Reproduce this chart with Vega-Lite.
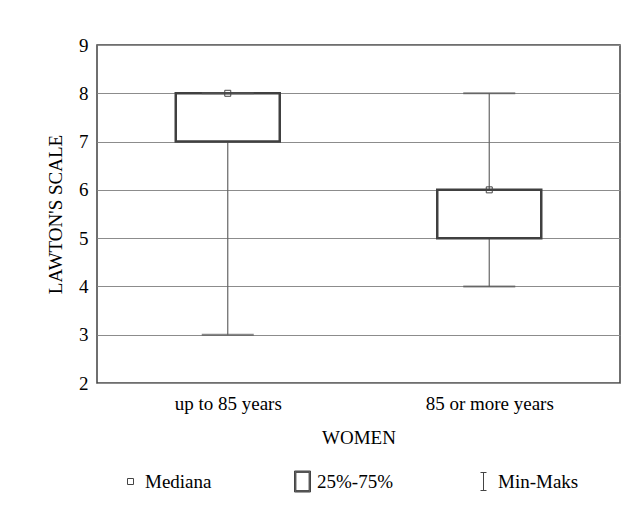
{
  "$schema": "https://vega.github.io/schema/vega-lite/v6.json",
  "width": 523,
  "height": 338,
  "autosize": {"type": "none"},
  "padding": {"left": 97, "top": 45, "right": 16, "bottom": 128},
  "background": "white",
  "config": {
    "font": "Liberation Serif",
    "view": {"stroke": "#404040", "strokeWidth": 1.5},
    "axis": {"labelFont": "Liberation Serif", "titleFont": "Liberation Serif", "labelFontSize": 19, "titleFontSize": 19, "labelColor": "black", "titleColor": "black", "titleFontWeight": "normal", "domain": false}
  },
  "data": {"values": [
    {"group": "up to 85 years", "min": 3, "q1": 7, "median": 8, "q3": 8, "max": 8, "legend": "Mediana"},
    {"group": "85 or more years", "min": 4, "q1": 5, "median": 6, "q3": 6, "max": 8, "legend": "Mediana"}
  ]},
  "encoding": {
    "x": {"field": "group", "type": "nominal", "sort": null,
      "scale": {"type": "point", "padding": 0.5},
      "axis": {"title": "WOMEN", "labelAngle": 0, "ticks": false, "labelPadding": 11, "titlePadding": 15, "grid": false}}
  },
  "layer": [
    {"mark": {"type": "rule", "color": "#666666", "strokeWidth": 1.2},
     "encoding": {
       "y": {"field": "min", "type": "quantitative", "scale": {"domain": [2, 9], "nice": false, "zero": false},
         "axis": {"title": "LAWTON'S SCALE", "values": [2,3,4,5,6,7,8,9], "ticks": false, "labelPadding": 9, "titlePadding": 13, "grid": true, "gridColor": "#8c8c8c", "gridWidth": 1, "gridOpacity": 1}},
       "y2": {"field": "max"}
     }},
    {"mark": {"type": "bar", "size": 104, "fill": "white", "stroke": "#404040", "strokeWidth": 2.5},
     "encoding": {"y": {"field": "q1", "type": "quantitative"}, "y2": {"field": "q3"}}},
    {"mark": {"type": "tick", "size": 52, "thickness": 2, "color": "#555555"},
     "encoding": {"y": {"field": "min", "type": "quantitative"}}},
    {"mark": {"type": "tick", "size": 52, "thickness": 2, "color": "#555555"},
     "encoding": {"y": {"field": "max", "type": "quantitative"}}},
    {"mark": {"type": "point", "filled": false, "stroke": "#444444", "color": "#444444", "strokeWidth": 1, "size": 400, "opacity": 1},
     "encoding": {
       "y": {"field": "median", "type": "quantitative"},
       "shape": {"field": "legend", "type": "nominal",
         "scale": {"domain": ["Mediana", "25%-75%", "Min-Maks"],
           "range": ["M-0.3,-0.3L0.3,-0.3L0.3,0.3L-0.3,0.3Z", "M-0.8,-1.05L0.8,-1.05L0.8,1.05L-0.8,1.05Z M-0.73,-0.98L0.73,-0.98L0.73,0.98L-0.73,0.98Z M-0.66,-0.91L0.66,-0.91L0.66,0.91L-0.66,0.91Z", "M-0.3,-0.9L0.3,-0.9M0,-0.9L0,0.9M-0.3,0.9L0.3,0.9"]},
         "legend": {"title": null, "orient": "none", "legendX": 23, "legendY": 426, "direction": "horizontal", "columns": 3, "gridAlign": "none",
           "values": ["Mediana", "25%-75%", "Min-Maks"],
           "symbolSize": 400, "symbolStrokeColor": "#444444", "symbolStrokeWidth": 1, "symbolOpacity": 1,
           "labelFont": "Liberation Serif", "labelFontSize": 19, "labelColor": "black", "labelOffset": 4, "columnPadding": 80, "labelLimit": 200}
       }
     }}
  ]
}
